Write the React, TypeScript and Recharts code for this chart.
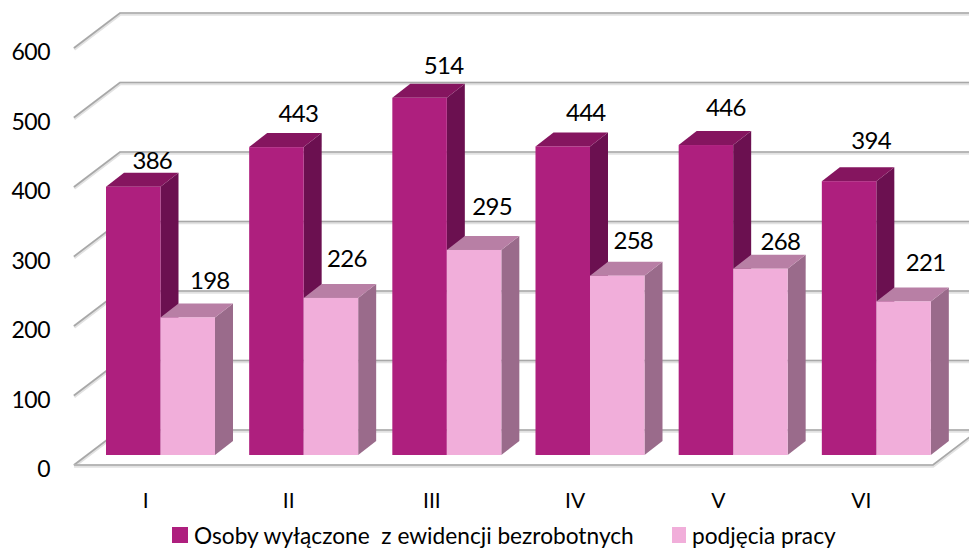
import { Bar, BarChart, CartesianGrid, LabelList, Legend, XAxis, YAxis } from "recharts";

const MONTHS = ["I", "II", "III", "IV", "V", "VI"];
const WYLACZONE = [386, 443, 514, 444, 446, 394];
const PODJECIA = [198, 226, 295, 258, 268, 221];
const Y_TICKS = [0, 100, 200, 300, 400, 500, 600];

const SERIES_A = "Osoby wyłączone  z ewidencji bezrobotnych";
const SERIES_B = "podjęcia pracy";

// depth of the fake 3d box
const DX = 18;
const DY = 14;
// wall depth and how far the bars sit behind the front edge of the floor
const WALL_X = 46;
const WALL_Y = 35;
const BAR_SHIFT_X = 15;
const BAR_SHIFT_Y = 10;

// hand placed labels in the original, relative to the top centre of the front face
const NUDGE_A = [[19, -27], [22, -35], [24, -33], [23, -35], [20, -39], [22, -42]];
const NUDGE_B = [[22, -38], [16, -40], [18, -44], [16, -36], [20, -28], [22, -40]];

const FONT = "Lato, Carlito, sans-serif";

const data = MONTHS.map((m, i) => ({ name: m, a: WYLACZONE[i], b: PODJECIA[i] }));

function Box3d(props: any) {
  const { x, y, width, height, front, top, side } = props;
  const l = x + BAR_SHIFT_X;
  const r = l + width;
  const t = y - BAR_SHIFT_Y;
  const b = t + height;
  return (
    <g>
      <polygon points={`${r},${t} ${r + DX},${t - DY} ${r + DX},${b - DY} ${r},${b}`} fill={side} />
      <polygon points={`${l},${t} ${l + DX},${t - DY} ${r + DX},${t - DY} ${r},${t}`} fill={top} />
      <rect x={l} y={t} width={width} height={height} fill={front} />
    </g>
  );
}

function WallLine(props: any) {
  const { x1, x2, y1, index } = props;
  const pts = `${x1},${y1} ${x1 + WALL_X},${y1 - WALL_Y} ${x2 + WALL_X},${y1 - WALL_Y}`;
  const isFloor = Math.abs(y1 - 465) < 1;
  const floor = `${x1},${y1} ${x2},${y1} ${x2 + WALL_X},${y1 - WALL_Y}`;
  return (
    <g key={index} fill="none">
      <polyline points={pts} stroke="#e2e2e2" strokeWidth={3.5} transform="translate(0,1)" />
      <polyline points={pts} stroke="#a8a8a8" strokeWidth={1.6} />
      {isFloor && <polyline points={floor} stroke="#e2e2e2" strokeWidth={3.5} transform="translate(0,1)" />}
      {isFloor && <polyline points={floor} stroke="#a8a8a8" strokeWidth={1.6} />}
    </g>
  );
}

function valueLabel(nudge: number[][]) {
  return (props: any) => {
    const { x, y, width, value, index } = props;
    const [dx, dy] = nudge[index];
    return (
      <text
        x={x + BAR_SHIFT_X + width / 2 + dx}
        y={y - BAR_SHIFT_Y + dy}
        textAnchor="middle"
        dominantBaseline="central"
        fontFamily={FONT}
        fontSize={24}
        letterSpacing={-0.7}
        fill="#000"
      >
        {value}
      </text>
    );
  };
}

function LegendRow() {
  const item = (color: string, label: string, width: number, box: number) => (
    <div style={{ display: "flex", alignItems: "center", width }}>
      <span style={{ width: box, height: 16, background: color, marginRight: 6, flex: "none" }} />
      <span style={{ whiteSpace: "pre", color: "#000", position: "relative", top: 1 }}>{label}</span>
    </div>
  );
  return (
    <div style={{ display: "flex", fontFamily: FONT, fontSize: 22.7, lineHeight: "26px" }}>
      {item("#ae1f7e", SERIES_A, 500, 16)}
      {item("#f1aeda", SERIES_B, 200, 14)}
    </div>
  );
}

export default function App() {
  return (
    <div style={{ position: "absolute", left: 0, top: 0, width: 969, height: 548, overflow: "hidden", background: "#fff" }}>
      <BarChart
        width={969}
        height={548}
        data={data}
        barSize={54.5}
        barGap={0}
        barCategoryGap={0}
        margin={{ top: 48, right: 36, bottom: 0, left: 14 }}
      >
        <CartesianGrid vertical={false} horizontal={(p: any) => <WallLine {...p} />} />
        <XAxis
          dataKey="name"
          axisLine={false}
          tickLine={false}
          height={83}
          tickSize={0}
          tickMargin={28}
          tick={{ fontFamily: FONT, fontSize: 21, fill: "#000" }}
        />
        <YAxis
          width={60}
          domain={[0, 600]}
          ticks={Y_TICKS}
          axisLine={false}
          tickLine={false}
          tickSize={0}
          tickMargin={24}
          tick={{ fontFamily: FONT, fontSize: 23, letterSpacing: -0.5, fill: "#000", dy: 4 }}
        />
        <Legend
          layout="horizontal"
          verticalAlign="middle"
          align="center"
          wrapperStyle={{ left: 172, top: 522, width: 720 }}
          content={() => <LegendRow />}
        />
        <Bar
          dataKey="a"
          name={SERIES_A}
          isAnimationActive={false}
          shape={(p: any) => <Box3d {...p} front="#ae1f7e" top="#85155f" side="#6b1050" />}
        >
          <LabelList dataKey="a" content={valueLabel(NUDGE_A)} />
        </Bar>
        <Bar
          dataKey="b"
          name={SERIES_B}
          isAnimationActive={false}
          shape={(p: any) => <Box3d {...p} front="#f1aeda" top="#b87fa5" side="#9a6b8b" />}
        >
          <LabelList dataKey="b" content={valueLabel(NUDGE_B)} />
        </Bar>
      </BarChart>
    </div>
  );
}
